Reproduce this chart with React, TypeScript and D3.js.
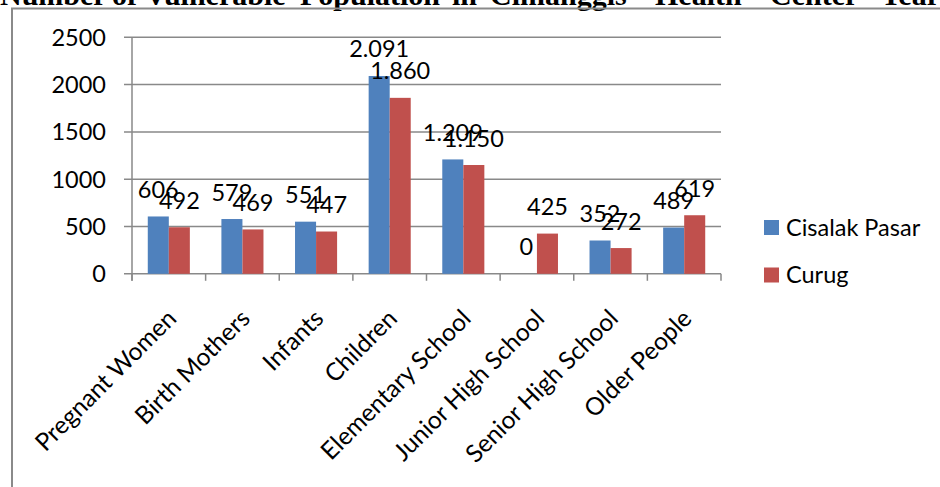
import React from "react";
import * as d3 from "d3";

const categories = [
  "Pregnant Women",
  "Birth Mothers",
  "Infants",
  "Children",
  "Elementary School",
  "Junior High School",
  "Senior High School",
  "Older People",
];
const cisalakPasar = [606, 579, 551, 2091, 1209, 0, 352, 489];
const curug = [492, 469, 447, 1860, 1150, 425, 272, 619];
const seriesNames = ["Cisalak Pasar", "Curug"];
const seriesColors = ["#4F81BD", "#C0504D"];
const yTicks = [0, 500, 1000, 1500, 2000, 2500];
const titleWords = ["Number", "of", "Vulnerable", "Population", "in", "Cimanggis", "Health", "Center", "Year"];
const titleX = [0, 112, 145, 300, 452, 490, 655, 770, 880];

const W = 940;
const H = 487;
const left = 132;
const right = 721;
const top = 37.3;
const bottom = 273.8;
const FONT = "Lato, 'Open Sans', sans-serif";
const FS = 23.5;
const GRID = "#898989";

const locale = d3.formatLocale({ decimal: ",", thousands: ".", grouping: [3], currency: ["", ""] });
const fmt = locale.format(",");

export default function App() {
  const x = d3.scaleBand<string>().domain(categories).range([left, right]).paddingInner(0).paddingOuter(0);
  const xs = d3.scaleBand<string>().domain(seriesNames).range([0, x.bandwidth()]).paddingInner(0).paddingOuter(0.75);
  const y = d3.scaleLinear().domain([0, 2500]).range([bottom, top]);
  const series = [cisalakPasar, curug];
  const boundaries = categories.map((c) => x(c) as number).concat([right]);

  return (
    <svg width={W} height={H} style={{ position: "absolute", left: 0, top: 0, background: "#fff" }}>
      {/* title (cropped at top) */}
      <g fontFamily="'Liberation Serif', 'Times New Roman', serif" fontWeight="bold" fontSize={30} fill="#000">
        {titleWords.map((w, i) => (
          <text key={w} x={titleX[i]} y={4.5}>
            {w}
          </text>
        ))}
      </g>
      {/* outer frame */}
      <rect x={12} y={8.5} width={W + 20} height={H + 20} fill="none" stroke="#8a8a8a" strokeWidth={2} />

      {/* gridlines */}
      {yTicks.map((t) => (
        <line key={t} x1={124} x2={right} y1={y(t)} y2={y(t)} stroke={GRID} strokeWidth={1.5} />
      ))}
      {/* y axis */}
      <line x1={left} x2={left} y1={top} y2={bottom + 7} stroke={GRID} strokeWidth={1.5} />
      {/* category ticks */}
      {boundaries.map((b, i) => (
        <line key={i} x1={b} x2={b} y1={bottom} y2={bottom + 7} stroke={GRID} strokeWidth={1.5} />
      ))}
      {/* y tick labels */}
      <g fontFamily={FONT} fontSize={FS} fill="#000" textAnchor="end">
        {yTicks.map((t) => (
          <text key={t} x={106} y={y(t)} dy="0.36em">
            {t}
          </text>
        ))}
      </g>

      {/* bars */}
      {series.map((vals, si) =>
        vals.map((v, ci) => {
          const bx = (x(categories[ci]) as number) + (xs(seriesNames[si]) as number);
          return (
            <rect
              key={`${si}-${ci}`}
              x={bx}
              y={y(v)}
              width={xs.bandwidth()}
              height={bottom - y(v)}
              fill={seriesColors[si]}
            />
          );
        })
      )}

      {/* data labels */}
      <g fontFamily={FONT} fontSize={FS} fill="#000" textAnchor="middle">
        {series.map((vals, si) =>
          vals.map((v, ci) => {
            const cx = (x(categories[ci]) as number) + (xs(seriesNames[si]) as number) + xs.bandwidth() / 2;
            return (
              <text key={`${si}-${ci}`} x={cx} y={y(v) - 18.5}>
                {fmt(v)}
              </text>
            );
          })
        )}
      </g>

      {/* category labels */}
      <g fontFamily={FONT} fontSize={24.5} fill="#000" textAnchor="end">
        {categories.map((c) => {
          const cx = (x(c) as number) + x.bandwidth() / 2 + 9;
          const cy = 320;
          return (
            <text key={c} x={cx} y={cy} transform={`rotate(-45 ${cx} ${cy})`}>
              {c}
            </text>
          );
        })}
      </g>

      {/* legend */}
      <g fontFamily={FONT} fontSize={FS} fill="#000">
        {seriesNames.map((s, i) => {
          const ly = 227.5 + i * 47.5;
          return (
            <g key={s}>
              <rect x={764} y={ly - 7.5} width={15} height={15} fill={seriesColors[i]} />
              <text x={786} y={ly} dy="0.36em">
                {s}
              </text>
            </g>
          );
        })}
      </g>
    </svg>
  );
}
